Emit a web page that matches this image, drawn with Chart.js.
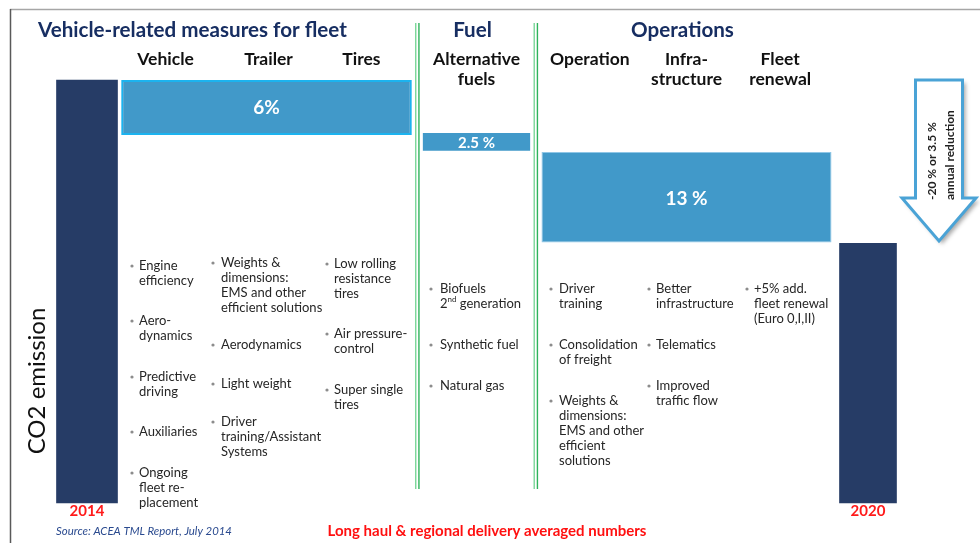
<!DOCTYPE html>
<html>
<head>
<meta charset="utf-8">
<title>CO2 emission reduction 2014-2020</title>
<script src="https://cdn.jsdelivr.net/npm/chart.js@4/dist/chart.umd.min.js"></script>
<style>
  html, body { margin: 0; padding: 0; background: #fff; }
</style>
</head>
<body>
<canvas id="context" width="980" height="543"></canvas>
<script>
// columns of the picture, left to right
const columns = ['2014', 'Vehicle', 'Trailer', 'Tires', 'Alternative fuels', 'Operation', 'Infra-structure', 'Fleet renewal', '2020'];

// CO2 emission, 2014 = 100 (bars are floating [from, to])
const emission2014 = [0, 100];
const emission2020 = [0, 61.4];
const vehicleStep = [87, 100];
const fuelStep = [83.3, 87.5];
const operationsStep = [61.6, 83];
const stepLabels = ['6%', '2.5 %', '13 %'];

// bullet texts under each column
const vehicleBullets = [['Engine', 'efficiency'], ['Aero-', 'dynamics'], ['Predictive', 'driving'], ['Auxiliaries'], ['Ongoing', 'fleet re-', 'placement']];
const trailerBullets = [['Weights &', 'dimensions:', 'EMS and other', 'efficient solutions'], ['Aerodynamics'], ['Light weight'], ['Driver', 'training/Assistant', 'Systems']];
const tireBullets = [['Low rolling', 'resistance', 'tires'], ['Air pressure-', 'control'], ['Super single', 'tires']];
const fuelBullets = [['Biofuels', '2^nd generation'], ['Synthetic fuel'], ['Natural gas']];
const operationBullets = [['Driver', 'training'], ['Consolidation', 'of freight'], ['Weights &', 'dimensions:', 'EMS and other', 'efficient', 'solutions']];
const infraBullets = [['Better', 'infrastructure'], ['Telematics'], ['Improved', 'traffic flow']];
const fleetBullets = [['+5% add.', 'fleet renewal', '(Euro 0,I,II)']];

const navy = '#263c66';
const stepBlue = '#4199c9';
const FONT = 'Lato, "Open Sans", sans-serif';

/**
 * Puts a value in one column and leaves the others empty
 */
function atColumn(name, value) {
  return columns.map(c => (c === name ? value : null));
}

// layout of the bullet lists: x of the bullet dot, x of the text, y of each item's first line
const bulletLayout = [
  { list: vehicleBullets, dot: 132, text: 139, tops: [266, 321, 377, 432, 473] },
  { list: trailerBullets, dot: 213, text: 221, tops: [263, 345, 384, 422] },
  { list: tireBullets, dot: 327, text: 334, tops: [264, 334, 390] },
  { list: fuelBullets, dot: 431, text: 440, tops: [289, 345, 386] },
  { list: operationBullets, dot: 551, text: 559, tops: [289, 345, 401] },
  { list: infraBullets, dot: 649, text: 656, tops: [289, 345, 386] },
  { list: fleetBullets, dot: 747, text: 754, tops: [289] }
];

function drawText(c, str, x, y, font, color, align) {
  c.font = font;
  c.fillStyle = color;
  c.textAlign = align || 'left';
  c.textBaseline = 'middle';
  c.fillText(str, x, y);
}

function headerLines(name) {
  if (name.includes(' ')) return name.split(' ');
  if (name.includes('-')) return [name.slice(0, name.indexOf('-') + 1), name.slice(name.indexOf('-') + 1)];
  return [name];
}

function drawArrow(c) {
  const cx = 939, top = 80, neck = 198, tip = 241, shaft = 23.5, head = 37;
  c.save();
  c.beginPath();
  c.moveTo(cx - shaft, top);
  c.lineTo(cx + shaft, top);
  c.lineTo(cx + shaft, neck);
  c.lineTo(cx + head, neck);
  c.lineTo(cx, tip);
  c.lineTo(cx - head, neck);
  c.lineTo(cx - shaft, neck);
  c.closePath();
  c.shadowColor = 'rgba(0,0,0,0.35)';
  c.shadowOffsetX = 3;
  c.shadowOffsetY = 3;
  c.shadowBlur = 4;
  c.fillStyle = '#fff';
  c.fill();
  c.shadowColor = 'transparent';
  c.strokeStyle = '#4aa3d6';
  c.lineWidth = 3;
  c.stroke();
  c.restore();

  [['-20 % or 3.5 %', 932.5], ['annual reduction', 950]].forEach(([str, x]) => {
    c.save();
    c.translate(x, 200);
    c.rotate(-Math.PI / 2);
    drawText(c, str, 0, 0, 'bold 12px ' + FONT, '#222', 'left');
    c.restore();
  });
}

const annotations = {
  id: 'annotations',
  beforeDatasetsDraw(chart) {
    const c = chart.ctx;
    c.save();
    // frame
    c.strokeStyle = '#a6a6a6';
    c.lineWidth = 1.5;
    c.beginPath(); c.moveTo(10, 9.5); c.lineTo(980, 9.5); c.stroke();
    c.strokeStyle = '#595959';
    c.beginPath(); c.moveTo(10.5, 9); c.lineTo(10.5, 543); c.stroke();

    // green separators between the measure groups
    const bar = name => chart.getDatasetMeta(chart.data.datasets.findIndex(d => d.label === name)).data;
    const veh = bar('Vehicle-related measures for fleet')[columns.indexOf('Trailer')];
    const fuel = bar('Fuel')[columns.indexOf('Alternative fuels')];
    const ops = bar('Operations')[columns.indexOf('Infra-structure')];
    const seps = [
      ((veh.x + veh.width / 2) + (fuel.x - fuel.width / 2)) / 2,
      ((fuel.x + fuel.width / 2) + (ops.x - ops.width / 2)) / 2
    ];
    seps.forEach(x => {
      c.lineWidth = 1.4;
      c.strokeStyle = '#7ad698';
      c.beginPath(); c.moveTo(x - 1.6, 23); c.lineTo(x - 1.6, 489); c.stroke();
      c.strokeStyle = '#2fb35c';
      c.beginPath(); c.moveTo(x + 1.6, 23); c.lineTo(x + 1.6, 489); c.stroke();
    });
    c.restore();
  },
  afterDatasetsDraw(chart) {
    const c = chart.ctx;
    c.save();
    const meta = name => chart.getDatasetMeta(chart.data.datasets.findIndex(d => d.label === name)).data;
    const veh = meta('Vehicle-related measures for fleet')[columns.indexOf('Trailer')];
    const fuel = meta('Fuel')[columns.indexOf('Alternative fuels')];
    const ops = meta('Operations')[columns.indexOf('Infra-structure')];
    const b2014 = meta('2014')[columns.indexOf('2014')];
    const b2020 = meta('2020')[columns.indexOf('2020')];

    // group titles
    const titleFont = 'bold 20.6px ' + FONT;
    drawText(c, 'Vehicle-related measures for fleet', 38, 30, titleFont, '#172e62', 'left');
    drawText(c, 'Fuel', fuel.x - 4, 30, titleFont, '#172e62', 'center');
    drawText(c, 'Operations', ops.x - 4, 30, titleFont, '#172e62', 'center');

    // column headers, at thirds of each group bar
    const headers = [
      [columns[1], veh.x - veh.width / 3 - 4], [columns[2], veh.x + 2], [columns[3], veh.x + veh.width / 3 - 2],
      [columns[4], fuel.x],
      [columns[5], ops.x - ops.width / 3], [columns[6], ops.x], [columns[7], ops.x + ops.width / 3 - 3]
    ];
    headers.forEach(([name, x]) => {
      headerLines(name).forEach((line, i) => {
        drawText(c, line, x, 59 + i * 20, 'bold 17.5px ' + FONT, '#111', 'center');
      });
    });

    // values on the step bars
    const white = '#ffffff';
    drawText(c, stepLabels[0], veh.x, (veh.y + veh.base) / 2, 'bold 19px ' + FONT, white, 'center');
    drawText(c, stepLabels[1], fuel.x, (fuel.y + fuel.base) / 2 + 1, 'bold 15px ' + FONT, white, 'center');
    drawText(c, stepLabels[2], ops.x, (ops.y + ops.base) / 2 + 2, 'bold 19px ' + FONT, white, 'center');

    // bullet lists
    const bulletFont = '13px ' + FONT;
    bulletLayout.forEach(col => {
      col.list.forEach((item, k) => {
        const top = col.tops[k];
        c.fillStyle = '#8c8c8c';
        c.beginPath(); c.arc(col.dot, top, 1.6, 0, Math.PI * 2); c.fill();
        item.forEach((line, j) => {
          const y = top + j * 15;
          if (line.startsWith('2^nd')) {
            drawText(c, '2', col.text, y, bulletFont, '#262626', 'left');
            const w2 = c.measureText('2').width;
            drawText(c, 'nd', col.text + w2, y - 5, '8px ' + FONT, '#262626', 'left');
            const wnd = c.measureText('nd').width;
            drawText(c, ' generation', col.text + w2 + wnd, y, bulletFont, '#262626', 'left');
          } else {
            drawText(c, line, col.text, y, bulletFont, '#262626', 'left');
          }
        });
      });
    });

    // vertical axis title
    c.save();
    c.translate(37, 381);
    c.rotate(-Math.PI / 2);
    drawText(c, 'CO2 emission', 0, 0, '24px ' + FONT, '#111', 'center');
    c.restore();

    // year labels under the total bars
    drawText(c, columns[0], b2014.x, 511, 'bold 15px ' + FONT, '#ff1a1a', 'center');
    drawText(c, columns[8], b2020.x, 511, 'bold 15px ' + FONT, '#ff1a1a', 'center');

    // footer
    drawText(c, 'Source: ACEA TML Report, July 2014', 56, 531, 'italic 11.4px ' + FONT, '#2a4a8f', 'left');
    drawText(c, 'Long haul & regional delivery averaged numbers', 487, 531, 'bold 15px ' + FONT, '#ff1010', 'center');

    drawArrow(c);
    c.restore();
  }
};

const data = {
  labels: columns,
  datasets: [
    {
      label: '2020',
      data: atColumn('2020', emission2020),
      stack: 'after',
      backgroundColor: navy,
      barThickness: 57,
      clip: false
    },
    {
      label: '2014',
      data: atColumn('2014', emission2014),
      stack: 'before',
      backgroundColor: navy,
      barThickness: 61,
      clip: false
    },
    {
      label: 'Vehicle-related measures for fleet',
      data: atColumn('Trailer', vehicleStep),
      grouped: false,
      categoryPercentage: 1,
      barPercentage: 2.768,
      backgroundColor: stepBlue,
      borderColor: '#1cb3ef',
      borderWidth: 2,
      borderSkipped: false,
      clip: false
    },
    {
      label: 'Fuel',
      data: atColumn('Alternative fuels', fuelStep),
      grouped: false,
      categoryPercentage: 1,
      barPercentage: 1.022,
      backgroundColor: stepBlue,
      clip: false
    },
    {
      label: 'Operations',
      data: atColumn('Infra-structure', operationsStep),
      grouped: false,
      categoryPercentage: 1,
      barPercentage: 2.762,
      backgroundColor: stepBlue,
      borderColor: '#8fc6e6',
      borderWidth: 1,
      borderSkipped: false,
      clip: false
    }
  ]
};

new Chart(document.getElementById('context'), {
  type: 'bar',
  data,
  options: {
    responsive: false,
    animation: false,
    devicePixelRatio: 1,
    layout: { padding: { left: 4, right: 31, top: 80, bottom: 40 } },
    scales: {
      x: { display: false },
      y: { display: false, min: 0, max: 100 }
    },
    plugins: {
      legend: { display: false },
      tooltip: { enabled: false }
    }
  },
  plugins: [annotations]
});
</script>
</body>
</html>
